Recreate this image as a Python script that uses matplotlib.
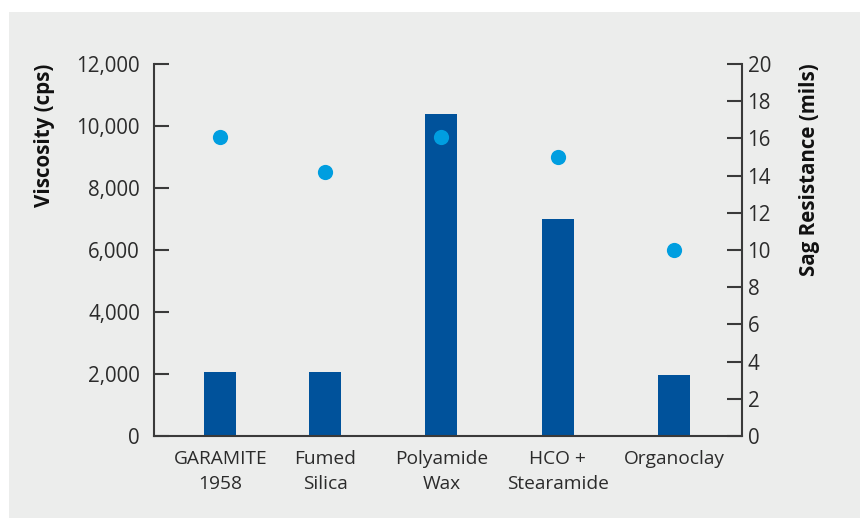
import matplotlib
matplotlib.use("Agg")
import matplotlib.pyplot as plt
from matplotlib.patches import Rectangle
from matplotlib.ticker import FuncFormatter

categories = ["GARAMITE\n1958", "Fumed\nSilica", "Polyamide\nWax", "HCO +\nStearamide", "Organoclay"]
viscosity = [2050, 2050, 10400, 7000, 1980]
sag = [16.1, 14.2, 16.1, 15.0, 10.0]
xpos = [0.1, 1, 2, 3, 4]
left_ticks = [0, 2000, 4000, 6000, 8000, 10000, 12000]
right_ticks = [0, 2, 4, 6, 8, 10, 12, 14, 16, 18, 20]

plt.rcParams['font.family'] = ['Open Sans', 'DejaVu Sans']

W, H = 860, 518
fig = plt.figure(figsize=(W / 100, H / 100), dpi=100)
fig.patch.set_facecolor("white")
bg = Rectangle((9 / W, 0), 1 - 9 / W, (H - 12) / H,
               transform=fig.transFigure, facecolor="#ecedec",
               edgecolor="none", zorder=-10)
fig.add_artist(bg)

ax = fig.add_axes([154 / W, (H - 436) / H, (742 - 154) / W, (436 - 64) / H])
ax.set_facecolor("none")
ax2 = ax.twinx()
ax2.set_facecolor("none")

bar_color = "#00529b"
dot_color = "#009ee0"
spine_color = "#3a3a3a"
text_color = "#2b2b2b"

ax.bar(xpos, viscosity, width=0.275, color=bar_color, zorder=2)
ax2.scatter(xpos, sag, s=120, color=dot_color, zorder=3, linewidths=0)

ax.set_xlim(-0.47, 4.585)
ax.set_ylim(0, 12000)
ax2.set_ylim(0, 20)
ax.set_yticks(left_ticks)
ax2.set_yticks(right_ticks)
ax.yaxis.set_major_formatter(FuncFormatter(lambda v, p: f"{int(v):,}"))

ax.set_xticks(xpos)
ax.set_xticklabels(categories, fontsize=13.8, color=text_color, linespacing=1.5)
ax.tick_params(axis="x", length=0, pad=10)
ax.tick_params(axis="y", direction="in", length=11, width=1.5, color=spine_color,
               labelsize=14.8, labelcolor=text_color, pad=10)
ax2.tick_params(axis="y", direction="in", length=11, width=1.5, color=spine_color,
                labelsize=14.8, labelcolor=text_color, pad=4)

for a in (ax, ax2):
    a.spines["top"].set_visible(False)
    for s in ("left", "right", "bottom"):
        a.spines[s].set_color(spine_color)
        a.spines[s].set_linewidth(1.5)
ax.spines["right"].set_visible(False)
ax2.spines["left"].set_visible(False)
ax2.spines["bottom"].set_visible(False)

ax.set_ylabel("Viscosity (cps)", fontsize=14.8, fontweight="bold", color="#111111")
ax2.set_ylabel("Sag Resistance (mils)", fontsize=14.8, fontweight="bold", color="#111111")
ax.yaxis.set_label_coords(-0.168, 0.809)
ax2.yaxis.set_label_coords(1.097, 0.715)

fig.savefig("out.png", dpi=100)
